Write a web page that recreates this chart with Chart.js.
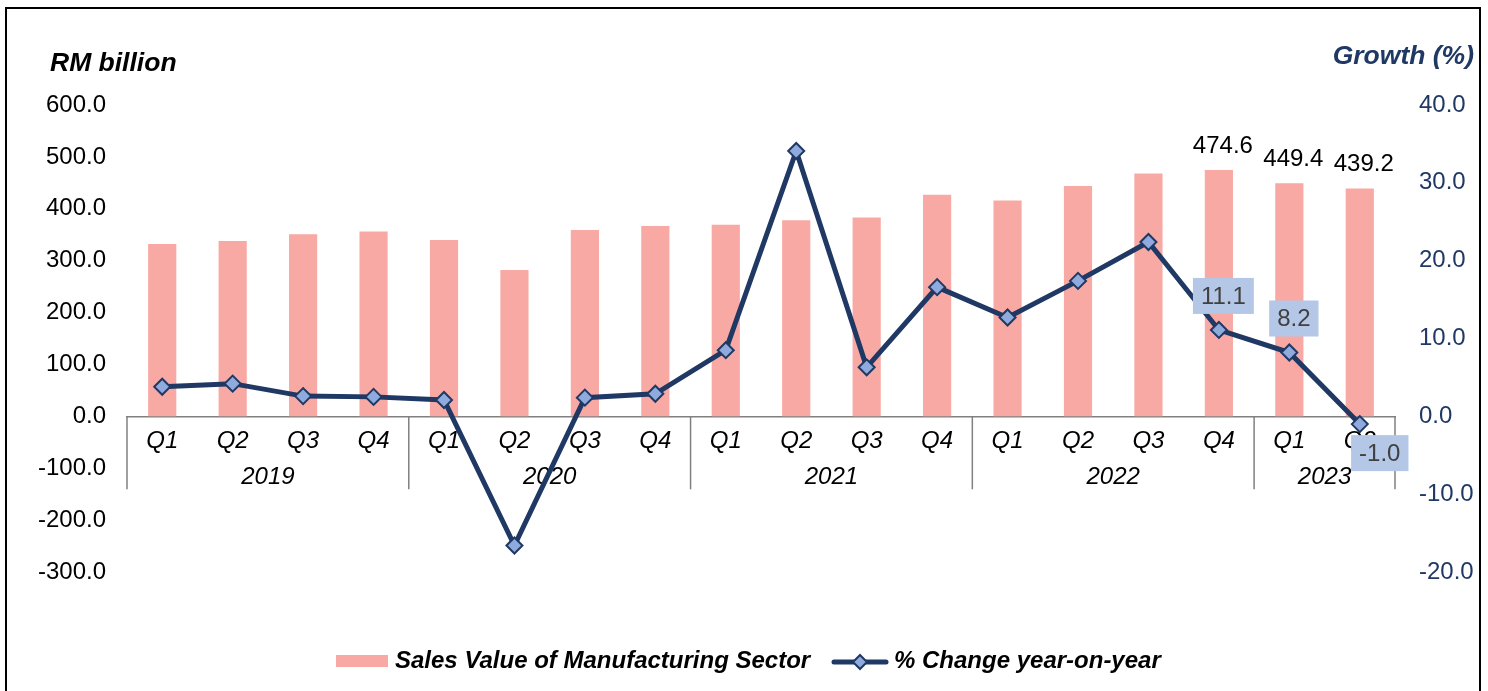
<!DOCTYPE html>
<html>
<head>
<meta charset="utf-8">
<script src="https://cdn.jsdelivr.net/npm/chart.js@4.4.0/dist/chart.umd.min.js"></script>
<style>
  html, body { margin: 0; padding: 0; background: #fff; }
  #wrap { width: 1488px; height: 691px; position: relative; }
</style>
</head>
<body>
<div id="wrap"><canvas id="mfgChart"></canvas></div>
<script>
// quarterly data, 2019 Q1 - 2023 Q2
const quarters = ['Q1', 'Q2', 'Q3', 'Q4', 'Q1', 'Q2', 'Q3', 'Q4', 'Q1', 'Q2', 'Q3', 'Q4', 'Q1', 'Q2', 'Q3', 'Q4', 'Q1', 'Q2'];
const years = ['2019', '2020', '2021', '2022', '2023'];
const quartersPerYear = [4, 4, 4, 4, 2];
const salesValue = [332, 338, 351, 356, 340, 282, 359, 367, 369, 378, 383, 427, 416, 444, 468, 474.6, 449.4, 439.2];
const yoyChange = [3.8, 4.2, 2.6, 2.5, 2.1, -16.6, 2.4, 2.9, 8.5, 34.1, 6.3, 16.6, 12.7, 17.4, 22.4, 11.1, 8.2, -1.0];
const leftTicks = [-300, -200, -100, 0, 100, 200, 300, 400, 500, 600];
const rightTicks = [-20, -10, 0, 10, 20, 30, 40];
// which points get a value label
const salesLabelIdx = [15, 16, 17];
const changeLabelIdx = [15, 16, 17];

const FONT = "'Liberation Sans', Arial, sans-serif";
const NAVY = '#1F3864';
const PINK = '#F9A9A3';
const MARKER = '#8FAADC';
const LABEL_BG = '#B4C7E7';

function ticksFrom(list) {
  return function(scale) {
    scale.ticks = list.map(v => ({ value: v }));
  };
}

const decorPlugin = {
  id: 'decor',
  beforeDraw(chart) {
    const c = chart.ctx;
    c.save();
    c.fillStyle = '#fff';
    c.fillRect(0, 0, chart.width, chart.height);
    c.restore();
  },
  beforeDatasetsDraw(chart) {
    // year groups under the quarter labels
    const c = chart.ctx;
    const xs = chart.scales.x;
    const zeroY = chart.scales.y.getPixelForValue(0);
    const area = chart.chartArea;
    const edge = i => {
      if (i <= 0) return area.left;
      if (i >= quarters.length) return area.right;
      return (xs.getPixelForValue(i - 1) + xs.getPixelForValue(i)) / 2;
    };
    c.save();
    c.strokeStyle = '#808080';
    c.lineWidth = 1.5;
    c.font = 'italic 24px ' + FONT;
    c.fillStyle = '#000';
    c.textAlign = 'center';
    c.textBaseline = 'middle';
    let start = 0;
    years.forEach((yr, k) => {
      const end = start + quartersPerYear[k];
      const x0 = edge(start), x1 = edge(end);
      c.beginPath();
      c.moveTo(x0, zeroY);
      c.lineTo(x0, zeroY + 73);
      c.stroke();
      if (k === years.length - 1) {
        c.beginPath();
        c.moveTo(x1, zeroY);
        c.lineTo(x1, zeroY + 73);
        c.stroke();
      }
      c.fillText(yr, (x0 + x1) / 2, zeroY + 61);
      start = end;
    });
    c.restore();
  },
  afterDatasetsDraw(chart) {
    const c = chart.ctx;
    const xs = chart.scales.x, ys = chart.scales.y, y1 = chart.scales.y1;
    c.save();
    c.font = '24px ' + FONT;
    c.textAlign = 'center';
    c.textBaseline = 'middle';
    // bar value labels
    c.fillStyle = '#000';
    salesLabelIdx.forEach(i => {
      const px = xs.getPixelForValue(i) + 4;
      const py = ys.getPixelForValue(salesValue[i]) - 24;
      c.fillText(salesValue[i].toFixed(1), px, py);
    });
    // growth labels in boxes
    changeLabelIdx.forEach(i => {
      const v = yoyChange[i];
      const txt = v.toFixed(1);
      let px = xs.getPixelForValue(i) + 4.5;
      let py = y1.getPixelForValue(v) - 34;
      if (v < 0) { px = xs.getPixelForValue(i) + 20; py = y1.getPixelForValue(v) + 29; }
      const w = c.measureText(txt).width + 16;
      const h = 36;
      c.fillStyle = LABEL_BG;
      c.fillRect(px - w / 2, py - h / 2, w, h);
      c.fillStyle = '#404040';
      c.fillText(txt, px, py + 1);
    });
    c.restore();
  },
  afterDraw(chart) {
    const c = chart.ctx;
    c.save();
    // outer frame
    c.strokeStyle = '#000';
    c.lineWidth = 2;
    c.strokeRect(6, 8, 1474, 700);
    // axis titles
    c.font = 'italic bold 26.5px ' + FONT;
    c.textBaseline = 'middle';
    c.fillStyle = '#000';
    c.textAlign = 'left';
    c.fillText('RM billion', 50, 64);
    c.fillStyle = NAVY;
    c.textAlign = 'right';
    c.fillText('Growth (%)', 1474, 57);
    // legend
    c.font = 'italic bold 24px ' + FONT;
    const ds = chart.data.datasets;
    const barSet = ds.find(d => d.type === 'bar');
    const lineSet = ds.find(d => d.type === 'line');
    const ly = 661;
    c.fillStyle = barSet.backgroundColor;
    c.fillRect(336, ly - 6, 52, 12);
    c.fillStyle = '#000';
    c.textAlign = 'left';
    c.fillText(barSet.label, 395, ly);
    c.strokeStyle = lineSet.borderColor;
    c.lineWidth = 5;
    c.lineCap = 'round';
    c.beginPath();
    c.moveTo(834, ly + 1);
    c.lineTo(886, ly + 1);
    c.stroke();
    c.beginPath();
    c.moveTo(860, ly + 1 - 7);
    c.lineTo(867, ly + 1);
    c.lineTo(860, ly + 1 + 7);
    c.lineTo(853, ly + 1);
    c.closePath();
    c.fillStyle = lineSet.pointBackgroundColor;
    c.fill();
    c.lineWidth = 2;
    c.stroke();
    c.fillStyle = '#000';
    c.fillText(lineSet.label, 894, ly);
    c.restore();
  }
};

new Chart(document.getElementById('mfgChart'), {
  data: {
    labels: quarters,
    datasets: [
      {
        type: 'line',
        label: '% Change year-on-year',
        data: yoyChange,
        yAxisID: 'y1',
        order: 0,
        borderColor: NAVY,
        borderWidth: 5,
        tension: 0,
        pointStyle: 'rectRot',
        pointRadius: 8,
        pointBorderWidth: 2,
        pointBackgroundColor: MARKER,
        pointBorderColor: NAVY
      },
      {
        type: 'bar',
        label: 'Sales Value of Manufacturing Sector',
        data: salesValue,
        yAxisID: 'y',
        order: 1,
        backgroundColor: PINK,
        categoryPercentage: 1,
        barPercentage: 0.4
      }
    ]
  },
  options: {
    responsive: true,
    maintainAspectRatio: false,
    animation: false,
    layout: { padding: { left: 0, right: 0, top: 105, bottom: 119 } },
    plugins: {
      legend: { display: false },
      tooltip: { enabled: false }
    },
    scales: {
      x: {
        position: { y: 0 },
        offset: true,
        grid: { display: false, drawTicks: false },
        border: { display: true, color: '#808080', width: 1.5 },
        ticks: {
          color: '#000',
          font: { family: FONT, size: 24, style: 'italic' },
          padding: 11,
          maxRotation: 0,
          autoSkip: false
        }
      },
      y: {
        position: 'left',
        min: -300,
        max: 600,
        afterBuildTicks: ticksFrom(leftTicks),
        afterFit: s => { s.width = 127; },
        grid: { display: false, drawTicks: false },
        border: { display: false },
        ticks: {
          color: '#000',
          font: { family: FONT, size: 24 },
          padding: 21,
          callback: v => v.toFixed(1)
        }
      },
      y1: {
        position: 'right',
        min: -20,
        max: 40,
        afterBuildTicks: ticksFrom(rightTicks),
        afterFit: s => { s.width = 93; },
        grid: { display: false, drawTicks: false },
        border: { display: false },
        ticks: {
          color: NAVY,
          font: { family: FONT, size: 24 },
          padding: 24,
          callback: v => v.toFixed(1)
        }
      }
    }
  },
  plugins: [decorPlugin]
});
</script>
</body>
</html>
